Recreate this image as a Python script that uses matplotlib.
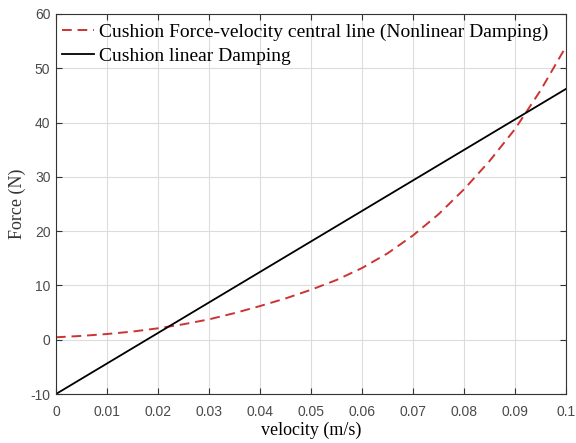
import matplotlib.pyplot as plt

plt.rcParams['axes.unicode_minus'] = False

# cushion characteristics: velocity (m/s) vs force (N)
velocity = [0.0, 0.005, 0.01, 0.015, 0.02, 0.025, 0.03, 0.035, 0.04, 0.045, 0.05,
            0.055, 0.06, 0.065, 0.07, 0.075, 0.08, 0.085, 0.09, 0.095, 0.1]
force_nonlinear = [0.45, 0.7, 1.05, 1.5, 2.1, 2.85, 3.75, 4.9, 6.2, 7.6, 9.2,
                   11.0, 13.2, 15.9, 19.2, 23.1, 27.7, 32.9, 38.8, 45.9, 54.0]
velocity_linear = [0.0, 0.1]
force_linear = [-10.0, 46.2]

x_ticks = [0, 0.01, 0.02, 0.03, 0.04, 0.05, 0.06, 0.07, 0.08, 0.09, 0.1]
x_tick_labels = ["0", "0.01", "0.02", "0.03", "0.04", "0.05", "0.06", "0.07", "0.08", "0.09", "0.1"]
y_ticks = [-10, 0, 10, 20, 30, 40, 50, 60]

fig = plt.figure(figsize=(5.76, 4.43), dpi=100)
ax = fig.add_axes([0.0972, 0.1106, 0.8854, 0.8578])

ax.plot(velocity, force_nonlinear, '--', color='#cc3333', lw=1.4,
        dashes=(5, 3), label='Cushion Force-velocity central line (Nonlinear Damping)')
ax.plot(velocity_linear, force_linear, '-', color='black', lw=1.3,
        label='Cushion linear Damping')

ax.set_xlim(0, 0.1)
ax.set_ylim(-10, 60)
ax.set_xticks(x_ticks)
ax.set_xticklabels(x_tick_labels)
ax.set_yticks(y_ticks)
ax.grid(True, color='#dcdcdc', lw=0.8)
ax.set_axisbelow(True)

ax.tick_params(direction='in', top=True, right=True, length=4, width=0.8,
               colors='#333333', labelsize=10, labelcolor='#4a4a4a')
ax.tick_params(axis='x', pad=8)
ax.tick_params(axis='y', pad=4)
for lab in ax.get_xticklabels() + ax.get_yticklabels():
    lab.set_fontfamily('Liberation Sans')
for sp in ax.spines.values():
    sp.set_color('#333333')
    sp.set_linewidth(0.8)

ax.set_xlabel('velocity (m/s)', family='Liberation Serif', fontsize=13, labelpad=2)
ax.set_ylabel('Force (N)', family='Liberation Serif', fontsize=13, labelpad=3,
              color='#333333')

leg = ax.legend(loc='upper left', bbox_to_anchor=(0.0, 0.99), frameon=False,
                prop={'family': 'Liberation Serif', 'size': 14},
                handlelength=1.65, handletextpad=0.25, labelspacing=0.3,
                borderaxespad=0.0, borderpad=0.3)

fig.savefig('out.png', dpi=100)
